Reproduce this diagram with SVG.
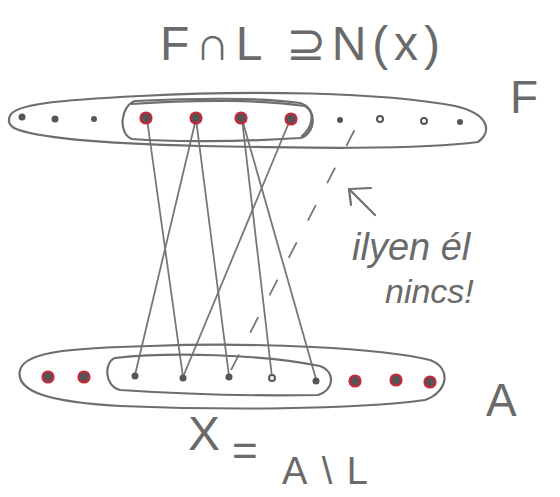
<svg xmlns="http://www.w3.org/2000/svg" width="560" height="497" viewBox="0 0 560 497">
<style>
.pen{fill:none;stroke:#6e6e6e;stroke-width:2.2;stroke-linecap:round;stroke-linejoin:round}
.edge{fill:none;stroke:#777;stroke-width:1.8;stroke-linecap:round}
.dot{fill:#555}
.red{fill:#555;stroke:#c8283c;stroke-width:2.2}
.t{font-family:"Liberation Sans",Arial,sans-serif;fill:#6a6a6a}
</style>
<rect width="560" height="497" fill="#fff"/>
<g id="connectors">
<line class="edge" x1="147" y1="119" x2="183" y2="377"/>
<line class="edge" x1="196" y1="119" x2="135" y2="375"/>
<line class="edge" x1="196" y1="119" x2="229" y2="376"/>
<line class="edge" x1="242" y1="119" x2="272" y2="377"/>
<line class="edge" x1="242" y1="119" x2="316" y2="379"/>
<line class="edge" x1="290" y1="120" x2="183" y2="377"/>
<line class="edge" x1="354" y1="131" x2="231" y2="370" stroke-dasharray="16 26"/>
</g>
<g id="F-set">
<path class="pen" d="M10,116 C14,104 60,100 140,96 C250,90 380,92 455,106 C490,114 492,132 478,142 C420,150 300,148 200,146 C120,144 40,140 14,128 C8,124 8,120 10,116 Z"/>
<text class="t" x="510" y="113" font-size="46">F</text>
</g>
<g id="FcapL">
<path class="pen" d="M135,101 C200,98 260,97 300,103 C318,108 316,134 300,138 C240,142 170,142 132,139 C118,134 120,106 135,101 Z"/>
<path class="pen" d="M132,104 C200,99 265,100 305,106 C316,112 312,128 302,136" stroke-width="1.5"/>
</g>
<g id="A-set">
<path class="pen" d="M20,370 C25,350 80,348 150,346 C260,342 380,348 430,360 C452,368 448,392 425,400 C350,410 220,410 120,406 C50,402 15,392 20,370 Z"/>
<text class="t" x="486" y="416" font-size="46">A</text>
</g>
<g id="X-set">
<path class="pen" d="M115,358 C170,352 260,354 320,366 C336,372 334,390 318,395 C260,396 180,394 120,390 C104,386 104,362 115,358 Z"/>
</g>
<g id="top-nodes">
<circle class="dot" cx="22" cy="117" r="3.5"/>
<circle class="dot" cx="55" cy="119" r="3.5"/>
<circle class="dot" cx="94" cy="119" r="3"/>
<circle class="red" cx="146" cy="118" r="5.5"/>
<circle class="red" cx="196" cy="118" r="5.5"/>
<circle class="red" cx="241" cy="118" r="5.5"/>
<circle class="red" cx="291" cy="119" r="5.5"/>
<circle class="dot" cx="340" cy="120" r="3"/>
<circle cx="380" cy="119" r="3" fill="#fff" stroke="#555" stroke-width="2"/>
<circle cx="424" cy="121" r="3" fill="#fff" stroke="#555" stroke-width="2"/>
<circle class="dot" cx="460" cy="122" r="3"/>
</g>
<g id="bottom-nodes">
<circle class="red" cx="48" cy="377" r="5.5"/>
<circle class="red" cx="84" cy="377" r="5.5"/>
<circle class="dot" cx="135" cy="376" r="3.5"/>
<circle class="dot" cx="183" cy="378" r="3.5"/>
<circle class="dot" cx="229" cy="377" r="3.5"/>
<circle cx="272" cy="378" r="3" fill="#fff" stroke="#555" stroke-width="2"/>
<circle class="dot" cx="316" cy="381" r="3.5"/>
<circle class="red" cx="355" cy="381" r="5.5"/>
<circle class="red" cx="396" cy="380" r="5.5"/>
<circle class="red" cx="430" cy="382" r="5.5"/>
</g>
<g id="title">
<text class="t" x="160" y="60" font-size="48" textLength="280" lengthAdjust="spacing">F∩L ⊇N(x)</text>
</g>
<g id="note">
<path class="pen" d="M375,215 L349,189 M349,189 L371,188 M349,189 L351,205"/>
<text class="t" x="352" y="260" font-size="38" font-style="italic">ilyen él</text>
<text class="t" x="385" y="303" font-size="34" font-style="italic">nincs!</text>
</g>
<g id="X-label">
<text class="t" x="188" y="450" font-size="48">X</text>
<text class="t" x="232" y="466" font-size="44">=</text>
<text class="t" x="282" y="484" font-size="38" textLength="86" lengthAdjust="spacing">A\L</text>
</g>
</svg>
